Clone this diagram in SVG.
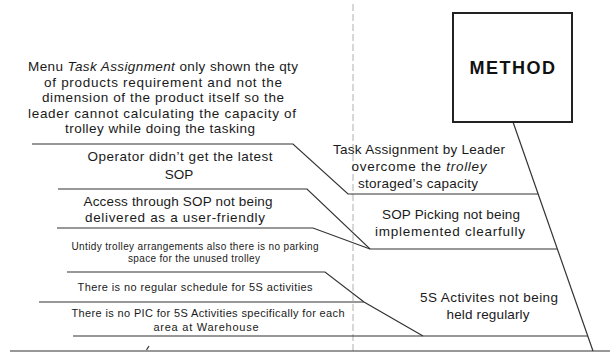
<svg xmlns="http://www.w3.org/2000/svg" width="610" height="354" viewBox="0 0 610 354">
  <style>
    .bone { fill: none; stroke: #333; stroke-width: 1.2; stroke-linejoin: miter; }
    .guide { fill: none; stroke: #b0b0b0; stroke-width: 1; stroke-dasharray: 7 3; }
    .t { font-family: "Liberation Sans", Arial, sans-serif; font-size: 13.5px; fill: #1a1a1a; text-anchor: middle; }
    .s { font-size: 11px; }
    .xs { font-size: 10px; }
    .it { font-style: italic; }
    .head { font-family: "Liberation Sans", Arial, sans-serif; font-size: 18px; font-weight: bold; letter-spacing: 1.5px; fill: #111; text-anchor: middle; }
  </style>

  <rect width="610" height="354" fill="#ffffff"/>

  <!-- vertical dashed guide -->
  <line class="guide" x1="353" y1="4" x2="353" y2="354"/>

  <!-- fishbone connectors -->
  <g id="connectors">
    <path class="bone" d="M10 351 H610"/>
    <path class="bone" d="M146.5 350 L149 346"/>
    <path class="bone" d="M513 122 L593 351"/>
    <polyline class="bone" points="32,144 293,144 348,194 538,194"/>
    <polyline class="bone" points="58,189 307,189 370,249 557,249"/>
    <polyline class="bone" points="57,228 313,228 370,249"/>
    <polyline class="bone" points="73,336 588,336"/>
    <polyline class="bone" points="67,272 325,272 364,302 423,336"/>
    <polyline class="bone" points="39,302 364,302"/>
  </g>

  <!-- category head -->
  <g id="method">
    <rect x="453" y="13" width="119" height="109" fill="#fff" stroke="#222" stroke-width="2"/>
    <text class="head" x="513" y="74">METHOD</text>
  </g>

  <!-- cause: task assignment -->
  <g id="cause-task-assignment">
    <text class="t" x="419" y="154" textLength="172">Task Assignment by Leader</text>
    <text class="t" x="419" y="171" textLength="135">overcome the <tspan class="it">trolley</tspan></text>
    <text class="t" x="418" y="188" textLength="120">storaged’s capacity</text>
  </g>

  <g id="sub-menu-task">
    <text class="t" x="163" y="71" textLength="270">Menu <tspan class="it">Task Assignment</tspan> only shown the qty</text>
    <text class="t" x="163" y="86.5" textLength="238">of products requirement and not the</text>
    <text class="t" x="163" y="102" textLength="242">dimension of the product itself so the</text>
    <text class="t" x="162" y="117.5" textLength="268">leader cannot calculating the capacity of</text>
    <text class="t" x="160" y="133" textLength="190">trolley while doing the tasking</text>
  </g>

  <!-- cause: SOP picking -->
  <g id="cause-sop-picking">
    <text class="t" x="451" y="219" textLength="138">SOP Picking not being</text>
    <text class="t" x="450" y="236" textLength="150">implemented clearfully</text>
  </g>

  <g id="sub-latest-sop">
    <text class="t" x="180" y="161" textLength="185">Operator didn’t get the latest</text>
    <text class="t" x="179" y="179">SOP</text>
  </g>

  <g id="sub-sop-access">
    <text class="t" x="178" y="206" textLength="189">Access through SOP not being</text>
    <text class="t" x="175" y="222" textLength="180">delivered as a user-friendly</text>
  </g>

  <!-- cause: 5S activities -->
  <g id="cause-5s">
    <text class="t" x="489" y="302" textLength="138">5S Activites not being</text>
    <text class="t" x="488" y="319" textLength="83">held regularly</text>
  </g>

  <g id="sub-untidy-trolley">
    <text class="t xs" x="195" y="250" textLength="247">Untidy trolley arrangements also there is no parking</text>
    <text class="t xs" x="194" y="262" textLength="132">space for the unused trolley</text>
  </g>

  <g id="sub-no-schedule">
    <text class="t s" x="195" y="291" textLength="235">There is no regular schedule for 5S activities</text>
  </g>

  <g id="sub-no-pic">
    <text class="t s" x="208" y="317" textLength="273">There is no PIC for 5S Activities specifically for each</text>
    <text class="t s" x="206" y="331" textLength="105">area at Warehouse</text>
  </g>
</svg>
